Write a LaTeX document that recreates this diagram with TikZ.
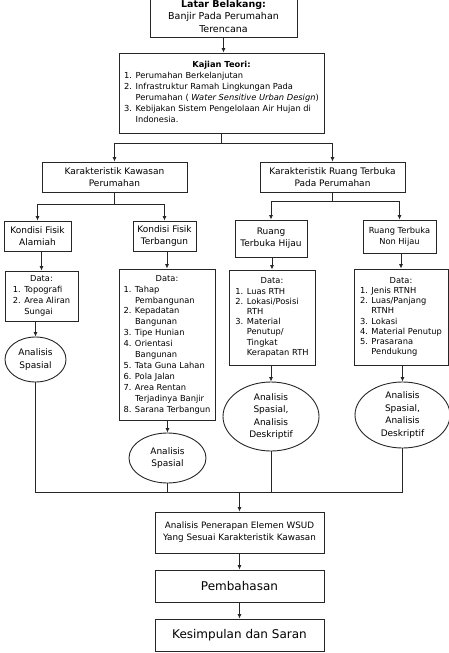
\documentclass[tikz,border=0pt]{standalone}
\usepackage{fontspec}
\setmainfont{DejaVu Sans}
\usetikzlibrary{arrows.meta,shapes.geometric}
\begin{document}
\begin{tikzpicture}[x=1pt,y=-1pt,
  box/.style={draw=black!85, line width=0.9pt, inner sep=1pt, align=center, font=\fontsize{9}{12}\selectfont},
  lst/.style={box, font=\fontsize{8.3}{10.9}\selectfont},
  ell/.style={ellipse, draw=black!85, line width=0.9pt, inner sep=0pt, align=center, font=\fontsize{9}{12.5}\selectfont},
  arr/.style={-{Latex[length=4.5pt,width=4pt]}, line width=0.8pt, draw=black!85},
  ln/.style={line width=0.8pt, draw=black!85}]
\useasboundingbox (0,0) rectangle (449,653);

\node[box, font=\fontsize{9.5}{12.5}\selectfont, minimum width=147pt, minimum height=42pt] (lb) at (223.5,16)
  {\textbf{Latar Belakang:}\\Banjir Pada Perumahan\\Terencana};

\node[lst, minimum width=205pt, minimum height=80pt] (kt) at (221.5,93)
  {\begin{tabular}{@{}l@{\hspace{3.5pt}}l@{}}
   \multicolumn{2}{c}{\textbf{Kajian Teori:}}\\
   1.&Perumahan Berkelanjutan\\
   2.&Infrastruktur Ramah Lingkungan Pada\\
   &Perumahan ( \textit{Water Sensitive Urban Design})\\
   3.&Kebijakan Sistem Pengelolaan Air Hujan di\\
   &Indonesia.
   \end{tabular}};

\node[box, minimum width=145pt, minimum height=30pt] (kk) at (114.5,177) {Karakteristik Kawasan\\Perumahan};
\node[box, minimum width=145pt, minimum height=30pt] (kr) at (332.5,177) {Karakteristik Ruang Terbuka\\Pada Perumahan};

\node[box, minimum width=67pt, minimum height=30pt] (kfa) at (37.5,236) {Kondisi Fisik\\Alamiah};
\node[box, minimum width=63pt, minimum height=30pt] (kft) at (164.5,236) {Kondisi Fisik\\Terbangun};
\node[box, minimum width=72pt, minimum height=37pt] (rth) at (271,238.5) {Ruang\\Terbuka Hijau};
\node[box, font=\fontsize{8.3}{11.5}\selectfont, minimum width=73pt, minimum height=33pt] (rtnh) at (399.5,236.5) {Ruang Terbuka\\Non Hijau};

\node[lst, minimum width=73pt, minimum height=50pt] (dkfa) at (41.5,296)
  {\begin{tabular}{@{}l@{\hspace{3.5pt}}l@{}}
   \multicolumn{2}{c}{Data:}\\
   1.&Topografi\\
   2.&Area Aliran\\
   &Sungai
   \end{tabular}};

\node[lst, minimum width=96pt, minimum height=151pt] (dkft) at (167,344.5)
  {\begin{tabular}{@{}l@{\hspace{3.5pt}}l@{}}
   \multicolumn{2}{c}{Data:}\\
   1.&Tahap\\
   &Pembangunan\\
   2.&Kepadatan\\
   &Bangunan\\
   3.&Tipe Hunian\\
   4.&Orientasi\\
   &Bangunan\\
   5.&Tata Guna Lahan\\
   6.&Pola Jalan\\
   7.&Area Rentan\\
   &Terjadinya Banjir\\
   8.&Sarana Terbangun
   \end{tabular}};

\node[lst, font=\fontsize{8.3}{10.2}\selectfont, minimum width=86pt, minimum height=95pt] (drth) at (272,317.5)
  {\begin{tabular}{@{}l@{\hspace{3.5pt}}l@{}}
   \multicolumn{2}{c}{Data:}\\
   1.&Luas RTH\\
   2.&Lokasi/Posisi\\
   &RTH\\
   3.&Material\\
   &Penutup/\\
   &Tingkat\\
   &Kerapatan RTH
   \end{tabular}};

\node[lst, font=\fontsize{8.3}{10.1}\selectfont, minimum width=94pt, minimum height=96pt] (drtnh) at (401,317)
  {\begin{tabular}{@{}l@{\hspace{3.5pt}}l@{}}
   \multicolumn{2}{c}{Data:}\\
   1.&Jenis RTNH\\
   2.&Luas/Panjang\\
   &RTNH\\
   3.&Lokasi\\
   4.&Material Penutup\\
   5.&Prasarana\\
   &Pendukung
   \end{tabular}};

\node[ell, minimum width=61pt, minimum height=45pt] (e1) at (35.5,359.5) {Analisis\\Spasial};
\node[ell, minimum width=77pt, minimum height=50pt] (e2) at (167.5,458) {Analisis\\Spasial};
\node[ell, minimum width=96pt, minimum height=69pt] (e3) at (271,416.5) {Analisis\\Spasial,\\Analisis\\Deskriptif};
\node[ell, minimum width=95pt, minimum height=66pt] (e4) at (402.5,415) {Analisis\\Spasial,\\Analisis\\Deskriptif};

\node[box, font=\fontsize{8.8}{12}\selectfont, minimum width=169pt, minimum height=41pt] (wsud) at (239.5,532.5)
  {Analisis Penerapan Elemen WSUD\\Yang Sesuai Karakteristik Kawasan};
\node[box, font=\fontsize{12}{14}\selectfont, minimum width=169pt, minimum height=32pt] (pemb) at (239.5,586) {Pembahasan};
\node[box, font=\fontsize{12}{14}\selectfont, minimum width=169pt, minimum height=32pt] (kes) at (239.5,635) {Kesimpulan dan Saran};

% connectors
\draw[arr] (lb.south) -- (lb.south |- kt.north);
\draw[ln] (kt.south) -- ++(0,10) coordinate (j1);
\draw[arr] (j1) -| (kk.north);
\draw[arr] (j1) -| (kr.north);
\draw[ln] (kk.south) -- ++(0,12) coordinate (j2);
\draw[arr] (j2) -| (kfa.north);
\draw[arr] (j2) -| (kft.north);
\draw[ln] (kr.south) -- ++(0,9) coordinate (j3);
\draw[arr] (j3) -| (rth.north);
\draw[arr] (j3) -| (rtnh.north);

\draw[arr] (dkfa.north |- kfa.south) -- (dkfa.north);
\draw[arr] (e1.north |- dkfa.south) -- (e1.north);
\draw[arr] (dkft.north |- kft.south) -- (dkft.north);
\draw[arr] (e2.north |- dkft.south) -- (e2.north);
\draw[arr] (drth.north |- rth.south) -- (drth.north);
\draw[arr] (e3.north |- drth.south) -- (e3.north);
\draw[arr] (drtnh.north |- rtnh.south) -- (drtnh.north);
\draw[arr] (e4.north |- drtnh.south) -- (e4.north);

\path (wsud.north) ++(0,-19) coordinate (jb);
\draw[ln] (e1.south) |- (jb);
\draw[ln] (e2.south) |- (jb);
\draw[ln] (e3.south) |- (jb);
\draw[ln] (e4.south) |- (jb);
\draw[arr] (jb) -- (wsud.north);
\draw[arr] (wsud.south) -- (pemb.north);
\draw[arr] (pemb.south) -- (kes.north);
\end{tikzpicture}
\end{document}
